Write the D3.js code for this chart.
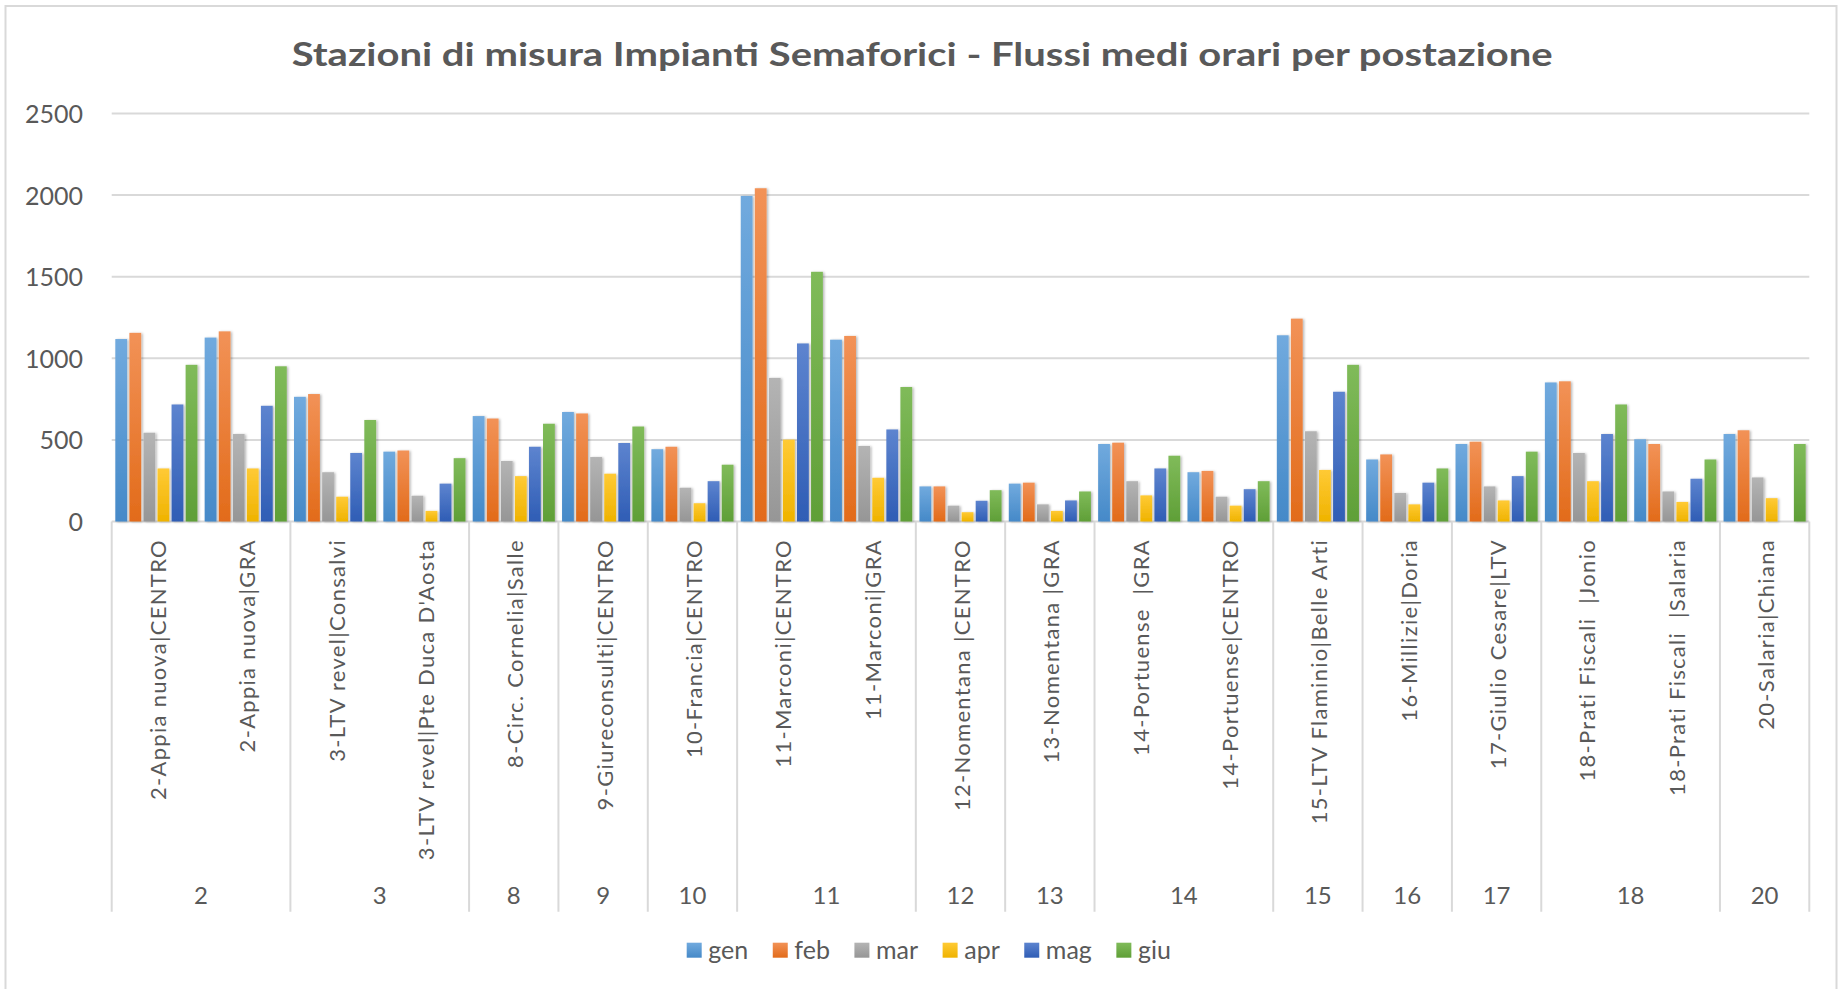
<!DOCTYPE html>
<html>
<head>
<meta charset="utf-8">
<script src="https://cdn.jsdelivr.net/npm/d3@7"></script>
<style>
  html, body { margin: 0; padding: 0; background: #ffffff; }
  svg { display: block; }
</style>
</head>
<body>
<svg id="chart" width="1839" height="989"></svg>
<script>
// Postazioni (one bar group each) and the municipio they belong to
const categories = [
  "2-Appia nuova|CENTRO", "2-Appia nuova|GRA",
  "3-LTV revel|Consalvi", "3-LTV revel|Pte Duca D'Aosta",
  "8-Circ. Cornelia|Salle", "9-Giureconsulti|CENTRO", "10-Francia|CENTRO",
  "11-Marconi|CENTRO", "11-Marconi|GRA",
  "12-Nomentana |CENTRO", "13-Nomentana |GRA",
  "14-Portuense  |GRA", "14-Portuense|CENTRO",
  "15-LTV Flaminio|Belle Arti", "16-Millizie|Doria", "17-Giulio Cesare|LTV",
  "18-Prati Fiscali  |Jonio", "18-Prati Fiscali  |Salaria", "20-Salaria|Chiana"
];
const groups = ["2","2","3","3","8","9","10","11","11","12","13","14","14","15","16","17","18","18","20"];

const months = ["gen", "feb", "mar", "apr", "mag", "giu"];

// Flussi medi orari per mese
const gen = [1118, 1127, 764, 428, 646, 671, 443, 1995, 1114, 215, 232, 475, 302, 1141, 380, 475, 852, 504, 536];
const feb = [1156, 1165, 781, 435, 631, 662, 458, 2042, 1137, 215, 238, 483, 310, 1243, 411, 489, 859, 475, 559];
const mar = [544, 536, 302, 158, 371, 395, 207, 880, 463, 97, 105, 247, 152, 553, 175, 215, 420, 184, 270];
const apr = [325, 325, 152, 65, 278, 293, 112, 502, 268, 57, 65, 160, 97, 316, 105, 129, 247, 120, 143];
const mag = [717, 709, 420, 232, 458, 481, 247, 1091, 564, 127, 129, 325, 198, 795, 238, 278, 536, 262, null];
const giu = [960, 951, 622, 388, 599, 582, 348, 1530, 824, 192, 184, 403, 247, 960, 325, 428, 717, 380, 475];

const yTicks = [0, 500, 1000, 1500, 2000, 2500];

const seriesValues = { gen, feb, mar, apr, mag, giu };

// base, lighter top, darker bottom
const palette = {
  gen: ["#5B9BD5", "#71aade", "#4589c8"],
  feb: ["#ED7D31", "#f29257", "#e26b1a"],
  mar: ["#A5A5A5", "#b4b4b4", "#969696"],
  apr: ["#FFC000", "#ffca35", "#efb300"],
  mag: ["#4472C4", "#5d84cf", "#2f5db5"],
  giu: ["#70AD47", "#80bb5a", "#5f9f37"]
};

const svg = d3.select("#chart");
const textColor = "#595959";
const gridColor = "#d9d9d9";
const fontMain = "Lato, 'Open Sans', sans-serif";

// Outer chart frame
svg.append("rect")
  .attr("x", 5.5).attr("y", 6).attr("width", 1831).attr("height", 1000)
  .attr("fill", "#ffffff").attr("stroke", gridColor).attr("stroke-width", 2);

const defs = svg.append("defs");
months.forEach(m => {
  const g = defs.append("linearGradient")
    .attr("id", "grad-" + m)
    .attr("x1", 0).attr("y1", 0).attr("x2", 0).attr("y2", 1);
  g.append("stop").attr("offset", "0%").attr("stop-color", palette[m][1]);
  g.append("stop").attr("offset", "100%").attr("stop-color", palette[m][2]);
});
const shadow = defs.append("filter").attr("id", "barShadow")
  .attr("x", "-30%").attr("y", "-5%").attr("width", "160%").attr("height", "110%");
shadow.append("feDropShadow")
  .attr("dx", 1.5).attr("dy", 0.5).attr("stdDeviation", 1.2)
  .attr("flood-color", "#000000").attr("flood-opacity", 0.28);

// Scales
const plotLeft = 111.7, plotRight = 1809.3, plotTop = 113.5, plotBottom = 521.5;
const x0 = d3.scaleBand().domain(d3.range(categories.length)).range([plotLeft, plotRight]).padding(0);
const x1 = d3.scaleBand().domain(months).range([0, x0.bandwidth()]).paddingInner(0.16).paddingOuter(0.257);
const y = d3.scaleLinear().domain([0, 2500]).range([plotBottom, plotTop]);

// Title
const title = svg.append("text")
  .attr("x", 291.7).attr("y", 66)
  .attr("font-family", fontMain).attr("font-weight", 700).attr("font-size", 32)
  .attr("fill", textColor)
  .text("Stazioni di misura Impianti Semaforici - Flussi medi orari per postazione");
title.attr("textLength", 1261).attr("lengthAdjust", "spacingAndGlyphs");

// Horizontal gridlines
svg.append("g").selectAll("line").data(yTicks).join("line")
  .attr("x1", plotLeft).attr("x2", plotRight)
  .attr("y1", d => y(d)).attr("y2", d => y(d))
  .attr("stroke", gridColor).attr("stroke-width", 2);

// Y axis labels
const yAxis = d3.axisLeft(y).tickValues(yTicks).tickSize(0).tickPadding(0).tickFormat(d3.format("d"));
const yAxisG = svg.append("g").attr("transform", `translate(83,0)`).call(yAxis);
yAxisG.select(".domain").remove();
yAxisG.selectAll("text")
  .attr("font-family", fontMain).attr("font-size", 25).attr("fill", textColor)
  .attr("dy", "0.36em");

// Group separators below the axis
const groupStarts = [];
groups.forEach((g, i) => { if (i === 0 || groups[i - 1] !== g) groupStarts.push(i); });
const sepX = groupStarts.map(i => x0(i)).concat([plotRight]);
svg.append("g").selectAll("line").data(sepX).join("line")
  .attr("x1", d => d).attr("x2", d => d)
  .attr("y1", plotBottom).attr("y2", 911.7)
  .attr("stroke", gridColor).attr("stroke-width", 2);

// Bars
const bars = svg.append("g").attr("filter", "url(#barShadow)");
categories.forEach((c, i) => {
  const cg = bars.append("g").attr("transform", `translate(${x0(i)},0)`);
  months.forEach(m => {
    const v = seriesValues[m][i];
    if (v == null) return;
    cg.append("rect")
      .attr("x", x1(m)).attr("width", x1.bandwidth())
      .attr("y", y(v)).attr("height", y(0) - y(v))
      .attr("fill", `url(#grad-${m})`);
  });
});

// Category labels (vertical)
svg.append("g").selectAll("text").data(categories).join("text")
  .attr("transform", (d, i) => `translate(${x0(i) + x0.bandwidth() / 2},539) rotate(-90)`)
  .attr("text-anchor", "end")
  .attr("dy", 9.5)
  .attr("font-family", fontMain).attr("font-size", 22)
  .attr("letter-spacing", 1.3)
  .attr("fill", textColor)
  .style("white-space", "pre")
  .text(d => d);

// Group labels
const groupInfo = groupStarts.map((s, k) => {
  const e = k + 1 < groupStarts.length ? groupStarts[k + 1] : categories.length;
  return { name: groups[s], x: (x0(s) + (e < categories.length ? x0(e) : plotRight)) / 2 };
});
svg.append("g").selectAll("text").data(groupInfo).join("text")
  .attr("x", d => d.x).attr("y", 903.5)
  .attr("text-anchor", "middle")
  .attr("font-family", fontMain).attr("font-size", 24).attr("fill", textColor)
  .text(d => d.name);

// Legend
const legend = svg.append("g");
let lx = 686.7;
months.forEach(m => {
  legend.append("rect")
    .attr("x", lx).attr("y", 942.7).attr("width", 15).attr("height", 15)
    .attr("fill", `url(#grad-${m})`);
  const t = legend.append("text")
    .attr("x", lx + 21.6).attr("y", 959.3)
    .attr("font-family", fontMain).attr("font-size", 25).attr("fill", textColor)
    .text(m);
  lx = lx + 21.6 + t.node().getComputedTextLength() + 24.5;
});
</script>
</body>
</html>
